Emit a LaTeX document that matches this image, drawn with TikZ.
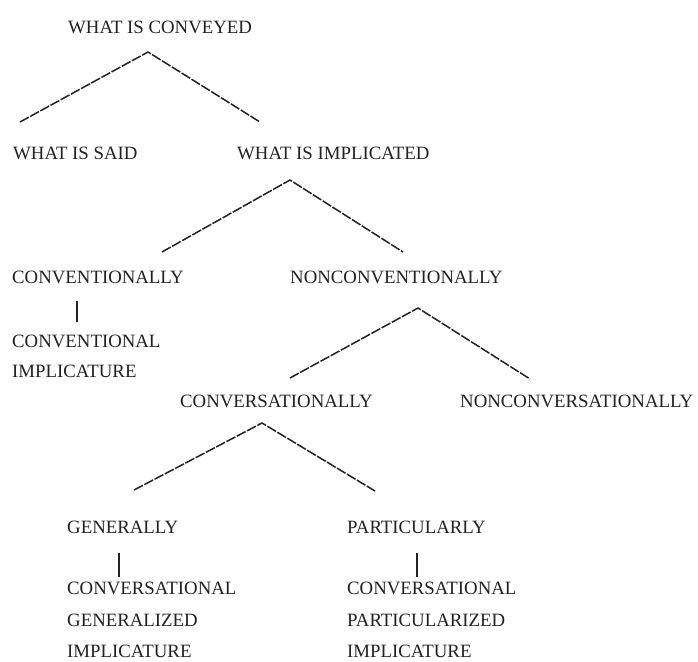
\documentclass[tikz,border=0pt]{standalone}
\usepackage{fontspec}
\setmainfont{Liberation Serif}
\usetikzlibrary{calc}
\definecolor{ink}{HTML}{222222}
\begin{document}
\begin{tikzpicture}[x=1pt,y=-1pt,
  lbl/.style={anchor=west,inner sep=0pt,text=ink,font=\fontsize{18.8}{30}\selectfont},
  branch/.style={draw=ink,line width=1.5pt,dash pattern=on 10pt off 1.6pt,line join=miter},
  stem/.style={draw=ink,line width=1.4pt}]
\useasboundingbox[fill=white] (0,0) rectangle (698,661);
% labels
\node[lbl] (conv) at (68,27) {WHAT IS CONVEYED};
\node[lbl] (said) at (13,153) {WHAT IS SAID};
\node[lbl] (impl) at (237,153) {WHAT IS IMPLICATED};
\node[lbl] (cnv) at (12,277) {CONVENTIONALLY};
\node[lbl] (ncnv) at (290,277) {NONCONVENTIONALLY};
\node[lbl] (cimp1) at (12,341) {CONVENTIONAL};
\node[lbl] (cimp2) at (12,371) {IMPLICATURE};
\node[lbl] (cvs) at (180,401) {CONVERSATIONALLY};
\node[lbl] (ncvs) at (460,401) {NONCONVERSATIONALLY};
\node[lbl] (gen) at (67,527) {GENERALLY};
\node[lbl] (par) at (347,527) {PARTICULARLY};
\node[lbl] (g1) at (67,588) {CONVERSATIONAL};
\node[lbl] (g2) at (67,620) {GENERALIZED};
\node[lbl] (g3) at (67,651) {IMPLICATURE};
\node[lbl] (p1) at (347,588) {CONVERSATIONAL};
\node[lbl] (p2) at (347,620) {PARTICULARIZED};
\node[lbl] (p3) at (347,651) {IMPLICATURE};
% tree branch points
\coordinate (a1) at (148,52);  \coordinate (l1) at (20,122);  \coordinate (r1) at (260,122);
\coordinate (a2) at (290,180); \coordinate (l2) at (162,252); \coordinate (r2) at (403,252);
\coordinate (a3) at (418,308); \coordinate (l3) at (290,378); \coordinate (r3) at (530,379);
\coordinate (a4) at (262,423); \coordinate (l4) at (134,490); \coordinate (r4) at (375,491);
\draw[branch] (l1) -- (a1) -- (r1);
\draw[branch] (l2) -- (a2) -- (r2);
\draw[branch] (l3) -- (a3) -- (r3);
\draw[branch] (l4) -- (a4) -- (r4);
% stems
\draw[stem] ($(cnv.south west)+(65,17)$) -- ($(cimp1.north west)+(65,-12)$);
\draw[stem] ($(gen.south west)+(52,19)$) -- ($(g1.north west)+(52,-4)$);
\draw[stem] ($(par.south west)+(70,19)$) -- ($(p1.north west)+(70,-4)$);
\end{tikzpicture}
\end{document}
